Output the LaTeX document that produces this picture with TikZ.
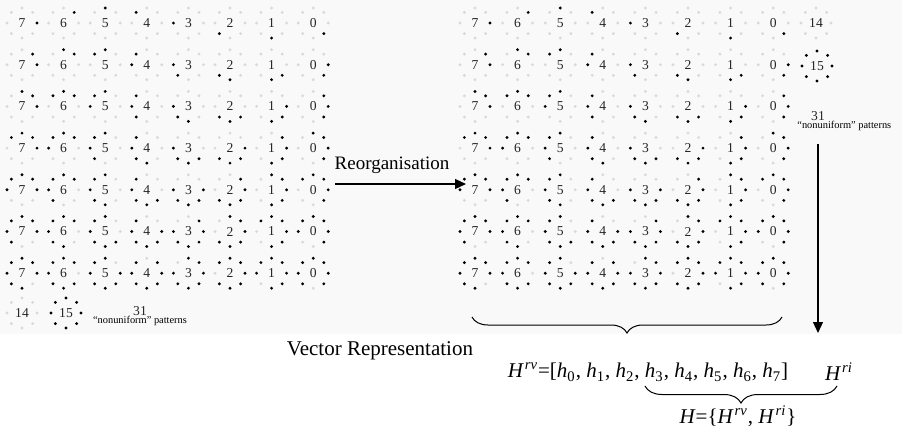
\documentclass[tikz,border=0pt]{standalone}
\usepackage{fontspec}
\setmainfont{Liberation Serif}
\usetikzlibrary{arrows.meta,decorations.pathreplacing}

\tikzset{
	onbit/.style={fill=black},
	offbit/.style={fill=black!15},
	bitlabel/.style={font=\fontsize{6.8}{7}\selectfont, text=black!85, inner sep=0pt},
	smalltext/.style={font=\fontsize{5.2}{6}\selectfont, inner sep=0pt},
	bigtext/.style={font=\fontsize{10.5}{12}\selectfont, inner sep=0pt},
	arrowline/.style={line width=0.6pt, -{Triangle[length=5.5pt,width=5pt]}},
	bracedeco/.style={decorate, decoration={brace,mirror,amplitude=8pt}, line width=0.5pt},
}

% italic letters in Times style
\newcommand{\hsub}[1]{\textit{h}\textsubscript{#1}}
\newcommand{\Hsup}[1]{\textit{H}\textsuperscript{\kern0.5pt\textit{#1}}}

% one pattern: name, x, y, first bit, number of ones, text
\newcommand{\lbppat}[6]{%
	\node[bitlabel] (#1) at (#2,#3) {#6};
	\foreach \k in {0,...,7}{%
		\pgfmathtruncatemacro{\dd}{mod(#4-\k+8,8)}%
		\ifnum\dd<#5 \def\bitstyle{onbit}\else\def\bitstyle{offbit}\fi
		\fill[\bitstyle] (#2,#3) ++({-(7-\k)*45}:15) circle[radius=1.6];
	}%
}

\begin{document}
\begin{tikzpicture}[x=0.5pt,y=-0.5pt]
	\useasboundingbox (0,0) rectangle (902,434);
	\fill[black!2.5] (0,0) rectangle (902,334);

	% left: patterns as they come
	\foreach \n in {1,...,7}{
		\foreach \lab in {0,...,7}{
			\pgfmathsetmacro{\px}{22+(7-\lab)*41.6}
			\pgfmathsetmacro{\py}{23+(\n-1)*41.7}
			\lbppat{L-\n-\lab}{\px}{\py}{\lab}{\n}{\lab}
		}
	}
	\lbppat{L-14}{22}{313}{0}{0}{14}
	\lbppat{L-15}{66}{313}{0}{8}{15}
	\node[bitlabel] (L-31) at (140,311) {31};
	\node[smalltext] (L-nu) at (140,321) {``nonuniform'' patterns};

	% right: reorganised
	\foreach \n in {1,...,7}{
		\foreach \lab in {0,...,7}{
			\pgfmathsetmacro{\px}{475+(7-\lab)*42.6}
			\pgfmathsetmacro{\py}{23+(\n-1)*41.7}
			\lbppat{R-\n-\lab}{\px}{\py}{\lab}{\n}{\lab}
		}
	}
	\lbppat{R-14}{816}{23}{0}{0}{14}
	\lbppat{R-15}{817}{66}{0}{8}{15}
	\node[bitlabel] (R-31) at (818,116) {31};
	\node[smalltext, anchor=west] (R-nu) at (797,126) {``nonuniform'' patterns};

	\coordinate (reoStart) at (335,184);
	\coordinate (reoEnd) at (466,184);
	\draw[arrowline] (reoStart) -- (reoEnd);
	\node[bigtext, font=\fontsize{9.5}{11}\selectfont] (reo) at (392,165) {Reorganisation};

	\coordinate (riTop) at (818,144);
	\coordinate (riBot) at (818,333);
	\draw[arrowline] (riTop) -- (riBot);

	\coordinate (braceA1) at (472,317);
	\coordinate (braceA2) at (782,317);
	\draw[bracedeco] (braceA1) -- (braceA2);

	\node[bigtext, anchor=base] (vecrep) at (380,355) {Vector Representation};
	\node[bigtext] (hrv) at (648,372) {\Hsup{rv}=[\hsub{0}, \hsub{1}, \hsub{2}, \hsub{3}, \hsub{4}, \hsub{5}, \hsub{6}, \hsub{7}]};
	\node[bigtext] (hri) at (839,372) {\Hsup{ri}};

	\coordinate (braceB1) at (645,386);
	\coordinate (braceB2) at (837,386);
	\draw[bracedeco, decoration={amplitude=8.5pt}] (braceB1) -- (braceB2);
	\node[bigtext] (hset) at (738,416) {\textit{H}=\{\Hsup{rv}, \Hsup{ri}\}};
\end{tikzpicture}
\end{document}
